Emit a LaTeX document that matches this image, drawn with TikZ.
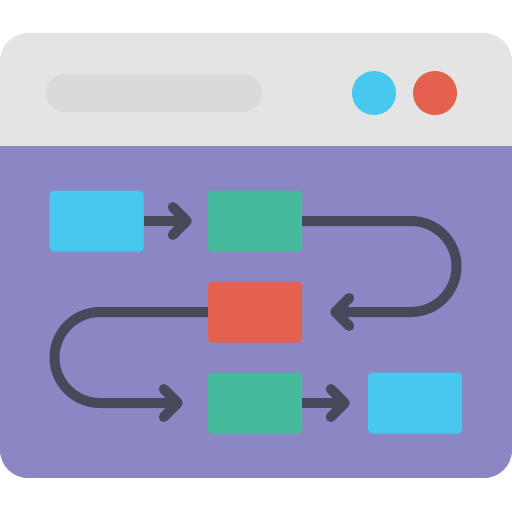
\documentclass[tikz,border=0pt]{standalone}
\usetikzlibrary{arrows.meta,calc}
\definecolor{topgray}{HTML}{E4E4E4}
\definecolor{bargray}{HTML}{DADADA}
\definecolor{panel}{HTML}{8A87C4}
\definecolor{skyc}{HTML}{48C7EF}
\definecolor{greenc}{HTML}{45BB9C}
\definecolor{redc}{HTML}{E4604F}
\definecolor{darkc}{HTML}{474859}
\tikzset{
  box/.style={rectangle, rounded corners=4pt, minimum width=94pt, minimum height=61pt, inner sep=0pt},
  dot/.style={circle, minimum size=44pt, inner sep=0pt},
  conn/.style={draw=darkc, line width=10pt, line cap=butt, line join=round,
    -{Straight Barb[length=14pt, width=28pt, round]}}
}
\begin{document}
\begin{tikzpicture}[x=1pt,y=-1pt]
\useasboundingbox (0,0) rectangle (512,512);
\begin{scope}
  \clip[rounded corners=28pt] (0,33) rectangle (512,478);
  \fill[topgray] (0,33) rectangle (512,146);
  \fill[panel] (0,146) rectangle (512,478);
\end{scope}
\fill[bargray, rounded corners=19pt] (46,74) rectangle (262,112);
\node[dot, fill=skyc] (d1) at (374,93) {};
\node[dot, fill=redc] (d2) at (435,93) {};
\node[box, fill=skyc] (b1) at (96.5,221) {};
\node[box, fill=greenc] (g1) at (255,221) {};
\node[box, fill=redc] (r) at (255,312) {};
\node[box, fill=greenc] (g2) at (255,403) {};
\node[box, fill=skyc] (b2) at (415,403) {};
\draw[conn, shorten >=16pt] (b1.east) -- (g1.west);
\draw[conn, shorten >=28pt] (g1.east) -- (411,221) arc[start angle=-90, end angle=90, radius=45.5] -- (r.east);
\draw[conn, shorten >=25pt] (r.west) -- (100,312) arc[start angle=-90, end angle=-270, radius=45.5] -- (g2.west);
\draw[conn, shorten >=18pt] (g2.east) -- (b2.west);
\end{tikzpicture}
\end{document}
